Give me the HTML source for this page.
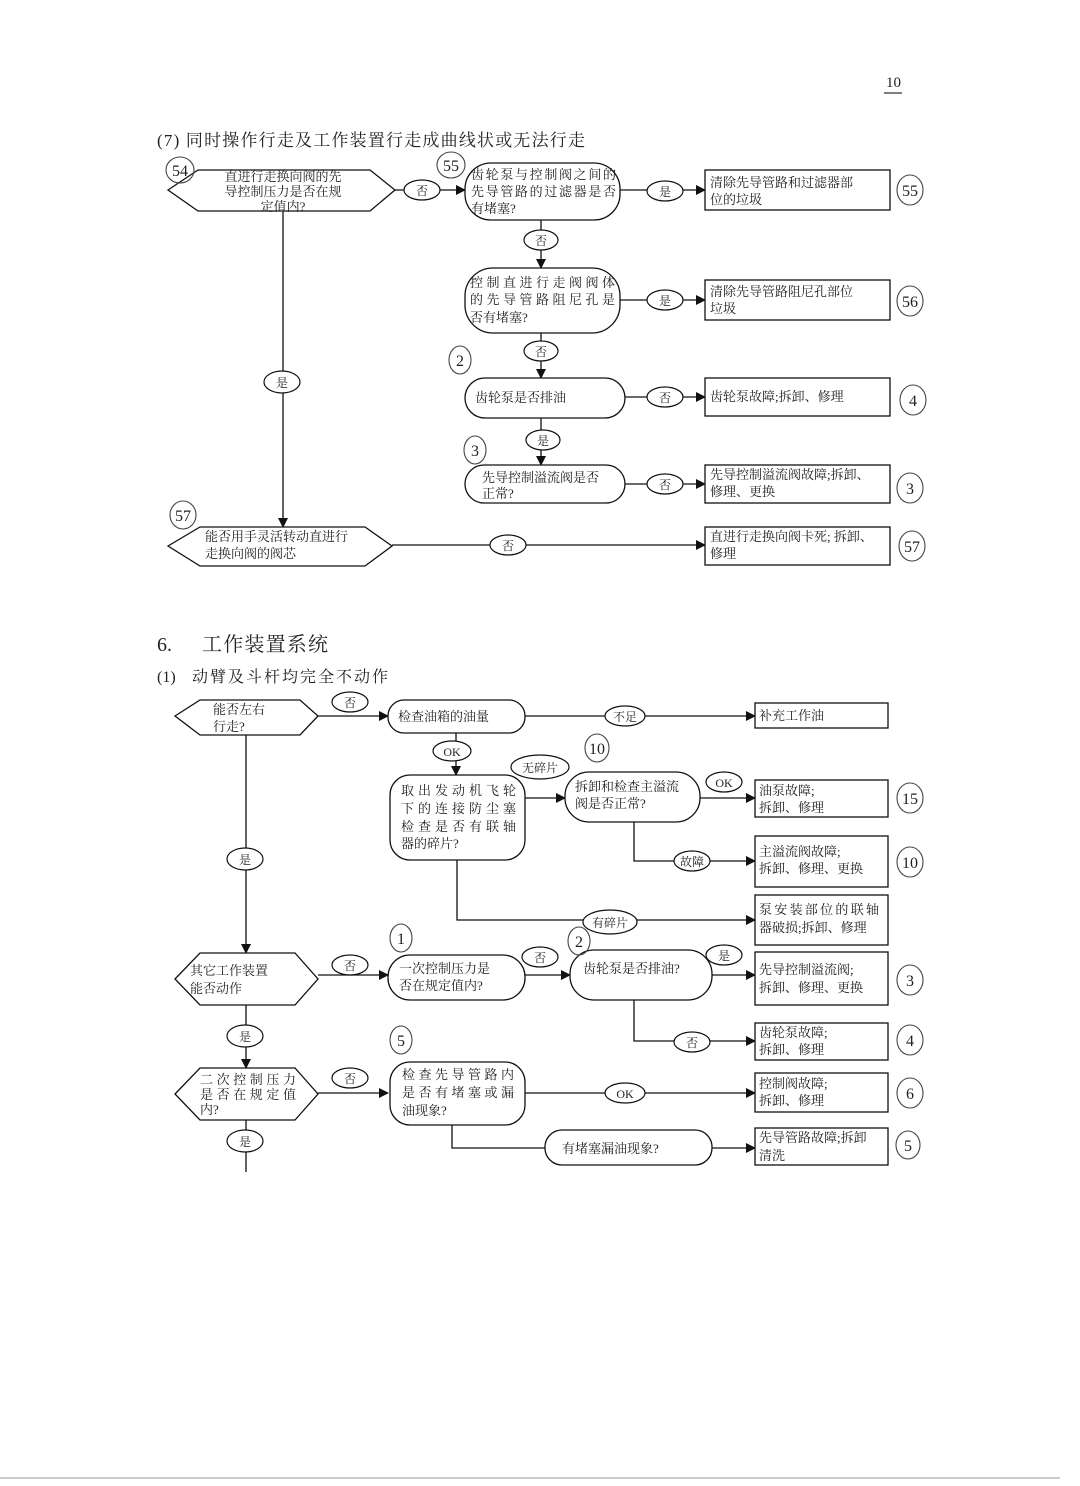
<!DOCTYPE html>
<html><head><meta charset="utf-8"><style>
html,body{margin:0;padding:0;background:#fff;}
svg{display:block;}
text{font-family:"Liberation Serif","Noto Serif CJK SC","Noto Sans CJK SC",serif;fill:#222;}
.t{font-size:13px;}
.h{font-size:15px;fill:#333;font-family:"Liberation Sans","Noto Sans CJK SC",sans-serif;}
</style></head><body>
<svg width="1080" height="1486" viewBox="0 0 1080 1486" xmlns="http://www.w3.org/2000/svg">
<defs><marker id="a" markerWidth="10" markerHeight="10" refX="9" refY="5" orient="auto" markerUnits="userSpaceOnUse"><path d="M0,0 L10,5 L0,10 z" fill="#111"/></marker></defs>
<rect width="1080" height="1486" fill="#fff"/>
<text x="886" y="87" style="font-size:15px">10</text>
<line x1="884" y1="93" x2="902" y2="93" stroke="#333" stroke-width="1.3"/>
<line x1="0" y1="1478" x2="1060" y2="1478" stroke="#bbb" stroke-width="1.5"/>

<text x="157" y="146" style="font-size:17px" textLength="428">(7) 同时操作行走及工作装置行走成曲线状或无法行走</text>

<g stroke="#111" stroke-width="1.3" fill="none">
<!-- top section -->
<polygon points="168,190 198,170 370,170 395,190 370,211 198,211" fill="#fff"/>
<line x1="395" y1="190" x2="465" y2="190" marker-end="url(#a)"/>
<rect x="465" y="163" width="155" height="57" rx="26" fill="#fff"/>
<line x1="620" y1="190" x2="705" y2="190" marker-end="url(#a)"/>
<rect x="705" y="170" width="185" height="40" fill="#fff"/>
<line x1="541" y1="220" x2="541" y2="268" marker-end="url(#a)"/>
<rect x="465" y="268" width="155" height="65" rx="28" fill="#fff"/>
<line x1="620" y1="300" x2="705" y2="300" marker-end="url(#a)"/>
<rect x="705" y="280" width="185" height="40" fill="#fff"/>
<line x1="541" y1="333" x2="541" y2="378" marker-end="url(#a)"/>
<rect x="465" y="378" width="160" height="40" rx="20" fill="#fff"/>
<line x1="625" y1="397" x2="705" y2="397" marker-end="url(#a)"/>
<rect x="705" y="378" width="185" height="38" fill="#fff"/>
<line x1="541" y1="418" x2="541" y2="465" marker-end="url(#a)"/>
<rect x="465" y="465" width="160" height="38" rx="19" fill="#fff"/>
<line x1="625" y1="484" x2="705" y2="484" marker-end="url(#a)"/>
<rect x="705" y="465" width="185" height="38" fill="#fff"/>
<line x1="283" y1="211" x2="283" y2="527" marker-end="url(#a)"/>
<polygon points="168,546 200,527 365,527 392,546 365,566 200,566" fill="#fff"/>
<line x1="392" y1="545" x2="705" y2="545" marker-end="url(#a)"/>
<rect x="705" y="527" width="185" height="38" fill="#fff"/>

<!-- bottom section -->
<polygon points="175,716 200,700 300,700 318,716 300,735 200,735" fill="#fff"/>
<line x1="318" y1="716" x2="388" y2="716" marker-end="url(#a)"/>
<rect x="388" y="700" width="137" height="33" rx="16" fill="#fff"/>
<line x1="525" y1="716" x2="755" y2="716" marker-end="url(#a)"/>
<rect x="755" y="703" width="133" height="25" fill="#fff"/>
<line x1="456" y1="733" x2="456" y2="775" marker-end="url(#a)"/>
<rect x="390" y="775" width="135" height="85" rx="20" fill="#fff"/>
<line x1="525" y1="798" x2="565" y2="798" marker-end="url(#a)"/>
<rect x="565" y="772" width="135" height="50" rx="24" fill="#fff"/>
<line x1="700" y1="798" x2="755" y2="798" marker-end="url(#a)"/>
<rect x="755" y="780" width="133" height="37" fill="#fff"/>
<polyline points="634,822 634,861 755,861" marker-end="url(#a)"/>
<rect x="755" y="836" width="133" height="51" fill="#fff"/>
<polyline points="457,860 457,920 755,920" marker-end="url(#a)"/>
<rect x="755" y="895" width="133" height="50" fill="#fff"/>
<line x1="246" y1="735" x2="246" y2="953" marker-end="url(#a)"/>
<polygon points="175,979 200,953 295,953 318,979 295,1005 200,1005" fill="#fff"/>
<line x1="318" y1="975" x2="388" y2="975" marker-end="url(#a)"/>
<rect x="388" y="955" width="137" height="45" rx="22" fill="#fff"/>
<line x1="525" y1="975" x2="570" y2="975" marker-end="url(#a)"/>
<rect x="570" y="950" width="142" height="50" rx="24" fill="#fff"/>
<line x1="712" y1="975" x2="755" y2="975" marker-end="url(#a)"/>
<rect x="755" y="952" width="133" height="53" fill="#fff"/>
<polyline points="634,1000 634,1041 755,1041" marker-end="url(#a)"/>
<rect x="755" y="1023" width="133" height="37" fill="#fff"/>
<line x1="246" y1="1005" x2="246" y2="1068" marker-end="url(#a)"/>
<polygon points="175,1094 200,1068 295,1068 318,1094 295,1120 200,1120" fill="#fff"/>
<line x1="318" y1="1093" x2="388" y2="1093" marker-end="url(#a)"/>
<rect x="390" y="1062" width="135" height="63" rx="20" fill="#fff"/>
<line x1="525" y1="1093" x2="755" y2="1093" marker-end="url(#a)"/>
<rect x="755" y="1073" width="133" height="39" fill="#fff"/>
<polyline points="452,1125 452,1148 545,1148"/>
<rect x="545" y="1130" width="167" height="35" rx="17" fill="#fff"/>
<line x1="712" y1="1148" x2="755" y2="1148" marker-end="url(#a)"/>
<rect x="755" y="1128" width="133" height="37" fill="#fff"/>
<line x1="246" y1="1120" x2="246" y2="1172"/>
</g>

<!-- connector label ellipses -->
<g stroke="#111" stroke-width="1.2" fill="#fff">
<ellipse cx="422" cy="190" rx="18" ry="10"/>
<ellipse cx="665" cy="191" rx="18" ry="10"/>
<ellipse cx="541" cy="240" rx="17" ry="10"/>
<ellipse cx="665" cy="300" rx="18" ry="10"/>
<ellipse cx="541" cy="351" rx="17" ry="10"/>
<ellipse cx="665" cy="397" rx="18" ry="10"/>
<ellipse cx="543" cy="440" rx="17" ry="10"/>
<ellipse cx="665" cy="484" rx="18" ry="10"/>
<ellipse cx="282" cy="382" rx="18" ry="11"/>
<ellipse cx="508" cy="545" rx="18" ry="10"/>
<ellipse cx="350" cy="702" rx="18" ry="10"/>
<ellipse cx="625" cy="716" rx="20" ry="10"/>
<ellipse cx="452" cy="751" rx="19" ry="10"/>
<ellipse cx="540" cy="767" rx="29" ry="12"/>
<ellipse cx="724" cy="782" rx="18" ry="10"/>
<ellipse cx="692" cy="861" rx="18" ry="10"/>
<ellipse cx="610" cy="922" rx="27" ry="12"/>
<ellipse cx="245" cy="859" rx="18" ry="11"/>
<ellipse cx="350" cy="965" rx="18" ry="10"/>
<ellipse cx="540" cy="957" rx="18" ry="10"/>
<ellipse cx="724" cy="955" rx="18" ry="10"/>
<ellipse cx="692" cy="1042" rx="18" ry="10"/>
<ellipse cx="245" cy="1036" rx="18" ry="11"/>
<ellipse cx="350" cy="1078" rx="18" ry="10"/>
<ellipse cx="625" cy="1093" rx="20" ry="10"/>
<ellipse cx="245" cy="1141" rx="18" ry="11"/>
</g>
<g class="t" text-anchor="middle" style="font-size:12px">
<text x="422" y="195">否</text><text x="665" y="196">是</text><text x="541" y="245">否</text>
<text x="665" y="305">是</text><text x="541" y="356">否</text><text x="665" y="402">否</text>
<text x="543" y="445">是</text><text x="665" y="489">否</text><text x="282" y="387">是</text>
<text x="508" y="550">否</text><text x="350" y="707">否</text><text x="625" y="721">不足</text>
<text x="452" y="756">OK</text><text x="540" y="772">无碎片</text><text x="724" y="787">OK</text>
<text x="692" y="866">故障</text><text x="610" y="927">有碎片</text><text x="245" y="864">是</text>
<text x="350" y="970">否</text><text x="540" y="962">否</text><text x="724" y="960">是</text>
<text x="692" y="1047">否</text><text x="245" y="1041">是</text><text x="350" y="1083">否</text>
<text x="625" y="1098">OK</text><text x="245" y="1146">是</text>
</g>

<!-- handwritten circles -->
<g stroke="#444" stroke-width="1.1" fill="none">
<ellipse cx="180" cy="170" rx="14" ry="13"/>
<ellipse cx="451" cy="165" rx="14" ry="13"/>
<ellipse cx="910" cy="190" rx="13" ry="15"/>
<ellipse cx="910" cy="301" rx="13" ry="15"/>
<ellipse cx="460" cy="360" rx="11" ry="14"/>
<ellipse cx="913" cy="400" rx="13" ry="15"/>
<ellipse cx="475" cy="450" rx="11" ry="14"/>
<ellipse cx="910" cy="488" rx="13" ry="15"/>
<ellipse cx="183" cy="515" rx="13" ry="14"/>
<ellipse cx="912" cy="546" rx="13" ry="15"/>
<ellipse cx="597" cy="748" rx="12" ry="14"/>
<ellipse cx="910" cy="798" rx="13" ry="15"/>
<ellipse cx="910" cy="862" rx="13" ry="15"/>
<ellipse cx="401" cy="938" rx="11" ry="14"/>
<ellipse cx="579" cy="941" rx="11" ry="14"/>
<ellipse cx="910" cy="980" rx="13" ry="15"/>
<ellipse cx="910" cy="1040" rx="13" ry="15"/>
<ellipse cx="401" cy="1040" rx="11" ry="14"/>
<ellipse cx="910" cy="1093" rx="13" ry="15"/>
<ellipse cx="908" cy="1145" rx="12" ry="14"/>
</g>
<g text-anchor="middle" style="font-size:16px" fill="#444">
<text x="180" y="176">54</text><text x="451" y="171">55</text><text x="910" y="196">55</text>
<text x="910" y="307">56</text><text x="460" y="366">2</text><text x="913" y="406">4</text>
<text x="475" y="456">3</text><text x="910" y="494">3</text><text x="183" y="521">57</text>
<text x="912" y="552">57</text><text x="597" y="754">10</text><text x="910" y="804">15</text>
<text x="910" y="868">10</text><text x="401" y="944">1</text><text x="579" y="947">2</text>
<text x="910" y="986">3</text><text x="910" y="1046">4</text><text x="401" y="1046">5</text>
<text x="910" y="1099">6</text><text x="908" y="1151">5</text>
</g>

<!-- node text -->
<g class="t">
<text x="283" y="181" text-anchor="middle">直进行走换向阀的先</text>
<text x="283" y="196" text-anchor="middle">导控制压力是否在规</text>
<text x="283" y="211" text-anchor="middle">定值内?</text>
<text x="471" y="179" textLength="145">齿轮泵与控制阀之间的</text>
<text x="471" y="196" textLength="145">先导管路的过滤器是否</text>
<text x="471" y="213">有堵塞?</text>
<text x="710" y="187">清除先导管路和过滤器部</text>
<text x="710" y="204">位的垃圾</text>
<text x="470" y="287" textLength="145">控制直进行走阀阀体</text>
<text x="470" y="304" textLength="145">的先导管路阻尼孔是</text>
<text x="470" y="322">否有堵塞?</text>
<text x="710" y="296">清除先导管路阻尼孔部位</text>
<text x="710" y="313">垃圾</text>
<text x="475" y="402">齿轮泵是否排油</text>
<text x="710" y="401">齿轮泵故障;拆卸、修理</text>
<text x="482" y="482">先导控制溢流阀是否</text>
<text x="482" y="498">正常?</text>
<text x="710" y="479">先导控制溢流阀故障;拆卸、</text>
<text x="710" y="496">修理、更换</text>
<text x="205" y="541">能否用手灵活转动直进行</text>
<text x="205" y="558">走换向阀的阀芯</text>
<text x="710" y="541">直进行走换向阀卡死; 拆卸、</text>
<text x="710" y="558">修理</text>
</g>

<text x="157" y="651" style="font-size:20px">6.</text>
<text x="202" y="651" style="font-size:20px" textLength="126">工作装置系统</text>
<text x="157" y="682" style="font-size:16px">(1)</text>
<text x="192" y="682" style="font-size:16px" textLength="196">动臂及斗杆均完全不动作</text>

<g class="t">
<text x="213" y="714">能否左右</text>
<text x="213" y="731">行走?</text>
<text x="398" y="721">检查油箱的油量</text>
<text x="759" y="720">补充工作油</text>
<text x="401" y="795" textLength="115">取出发动机飞轮</text>
<text x="401" y="813" textLength="115">下的连接防尘塞</text>
<text x="401" y="831" textLength="115">检查是否有联轴</text>
<text x="401" y="848">器的碎片?</text>
<text x="575" y="791">拆卸和检查主溢流</text>
<text x="575" y="808">阀是否正常?</text>
<text x="759" y="795">油泵故障;</text>
<text x="759" y="812">拆卸、修理</text>
<text x="759" y="856">主溢流阀故障;</text>
<text x="759" y="873">拆卸、修理、更换</text>
<text x="759" y="914" textLength="120">泵安装部位的联轴</text>
<text x="759" y="932">器破损;拆卸、修理</text>
<text x="190" y="975">其它工作装置</text>
<text x="190" y="993">能否动作</text>
<text x="399" y="973">一次控制压力是</text>
<text x="399" y="990">否在规定值内?</text>
<text x="583" y="973">齿轮泵是否排油?</text>
<text x="759" y="974">先导控制溢流阀;</text>
<text x="759" y="992">拆卸、修理、更换</text>
<text x="759" y="1037">齿轮泵故障;</text>
<text x="759" y="1054">拆卸、修理</text>
<text x="200" y="1084" textLength="96">二次控制压力</text>
<text x="200" y="1099" textLength="96">是否在规定值</text>
<text x="200" y="1114">内?</text>
<text x="402" y="1079" textLength="112">检查先导管路内</text>
<text x="402" y="1097" textLength="112">是否有堵塞或漏</text>
<text x="402" y="1115">油现象?</text>
<text x="759" y="1088">控制阀故障;</text>
<text x="759" y="1105">拆卸、修理</text>
<text x="562" y="1153">有堵塞漏油现象?</text>
<text x="759" y="1142">先导管路故障;拆卸</text>
<text x="759" y="1160">清洗</text>
</g>
</svg>
</body></html>
